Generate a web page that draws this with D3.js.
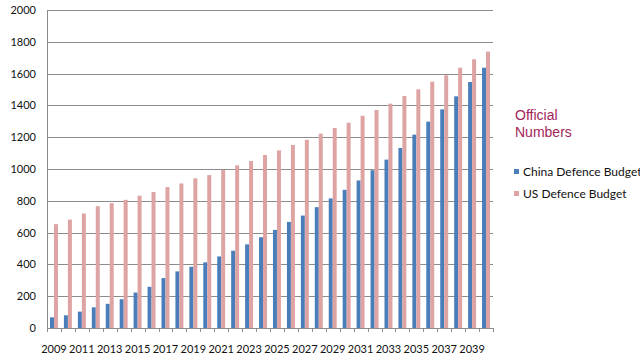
<!DOCTYPE html>
<html>
<head>
<meta charset="utf-8">
<script src="https://cdn.jsdelivr.net/npm/d3@7"></script>
<style>
  body { margin: 0; background: #fff; }
  svg { display: block; }
</style>
</head>
<body>
<div id="chart"></div>
<script>
// data
const years = ["2009","2010","2011","2012","2013","2014","2015","2016","2017","2018","2019","2020","2021","2022","2023","2024",
               "2025","2026","2027","2028","2029","2030","2031","2032","2033","2034","2035","2036","2037","2038","2039","2040"];
const china = [67,80,103,130,152,181,223,259,314,356,385,413,450,486,526,571,
               617,667,707,760,815,869,928,992,1059,1132,1216,1298,1375,1457,1547,1637];
const us = [653,682,720,766,785,806,832,855,886,909,941,962,994,1023,1050,1088,
            1117,1151,1184,1222,1258,1291,1335,1371,1411,1459,1501,1549,1589,1637,1690,1738];
const yTicks = [0,200,400,600,800,1000,1200,1400,1600,1800,2000];
const xLabels = ["2009","2011","2013","2015","2017","2019","2021","2023","2025","2027","2029","2031","2033","2035","2037","2039"];
const seriesNames = ["China Defence Budget","US Defence Budget"];
const colors = ["#4a7ebb","#dea3a3"];

const width = 640, height = 360;
const margin = {top: 10, left: 47, right: 147, bottom: 32};
const iwidth = width - margin.left - margin.right;
const iheight = height - margin.top - margin.bottom;

const svg = d3.select("#chart").append("svg")
  .attr("width", width)
  .attr("height", height);

const g = svg.append("g").attr("transform", `translate(${margin.left},${margin.top})`);

const y = d3.scaleLinear().domain([0, 2000]).range([iheight, 0]);

const x = d3.scaleBand()
  .domain(years)
  .range([0, iwidth])
  .paddingInner(3/7)
  .paddingOuter(1.5/7);

const x1 = d3.scaleBand().domain([0, 1]).range([0, x.bandwidth()]);

// gridlines
g.selectAll("line.grid").data(yTicks.filter(d => d > 0)).enter().append("line")
  .attr("class", "grid")
  .attr("x1", 0).attr("x2", iwidth)
  .attr("y1", d => Math.round(y(d)) + 0.5).attr("y2", d => Math.round(y(d)) + 0.5)
  .attr("stroke", "#8c8c8c")
  .attr("stroke-width", 1);

// bars
const rows = years.map((yr, i) => ({year: yr, vals: [china[i], us[i]]}));
const grp = g.selectAll("g.yr").data(rows).enter().append("g")
  .attr("transform", d => `translate(${x(d.year)},0)`);

grp.selectAll("rect").data(d => d.vals.map((v, k) => ({k: k, v: v}))).enter().append("rect")
  .attr("x", d => x1(d.k))
  .attr("y", d => y(d.v))
  .attr("width", x1.bandwidth())
  .attr("height", d => iheight - y(d.v))
  .attr("fill", d => colors[d.k]);

// y axis
const yAxis = g.append("g")
  .call(d3.axisLeft(y).tickValues(yTicks).tickSize(0).tickPadding(11).tickFormat(d3.format("d")));
yAxis.select(".domain").attr("stroke", "#8c8c8c");
yAxis.selectAll("text")
  .attr("font-family", "Lato, 'Open Sans', sans-serif")
  .attr("font-size", 11)
  .attr("fill", "#111");

// x axis: ticks between categories
const xAxis = g.append("g").attr("transform", `translate(0,${iheight})`);
xAxis.append("line")
  .attr("x1", 0).attr("x2", iwidth)
  .attr("y1", 0.5).attr("y2", 0.5)
  .attr("stroke", "#8c8c8c");
const step = x.step();
xAxis.selectAll("line.tk").data(d3.range(years.length + 1)).enter().append("line")
  .attr("class", "tk")
  .attr("x1", d => Math.round(d * step) + 0.5).attr("x2", d => Math.round(d * step) + 0.5)
  .attr("y1", 0).attr("y2", 4)
  .attr("stroke", "#8c8c8c");
xAxis.selectAll("text").data(xLabels).enter().append("text")
  .attr("x", d => x(d) + x.bandwidth() / 2)
  .attr("y", 25)
  .attr("text-anchor", "middle")
  .attr("font-family", "Lato, 'Open Sans', sans-serif")
  .attr("font-size", 11)
  .attr("fill", "#111")
  .text(d => d);

// legend
const lg = svg.append("g").attr("transform", "translate(514,0)");
lg.append("text").attr("x", 1).attr("y", 120)
  .attr("font-family", "'Liberation Sans', Arial, sans-serif")
  .attr("font-size", 14).attr("fill", "#a3245a")
  .text("Official");
lg.append("text").attr("x", 1).attr("y", 137)
  .attr("font-family", "'Liberation Sans', Arial, sans-serif")
  .attr("font-size", 14).attr("fill", "#a3245a")
  .text("Numbers");

seriesNames.forEach((name, i) => {
  lg.append("rect")
    .attr("x", 0).attr("y", 169 + i * 22)
    .attr("width", 5).attr("height", 5)
    .attr("fill", colors[i]);
  lg.append("text")
    .attr("x", 9).attr("y", 176 + i * 22)
    .attr("font-family", "Lato, 'Open Sans', sans-serif")
    .attr("font-size", 12)
    .attr("fill", "#111")
    .text(name);
});
</script>
</body>
</html>
